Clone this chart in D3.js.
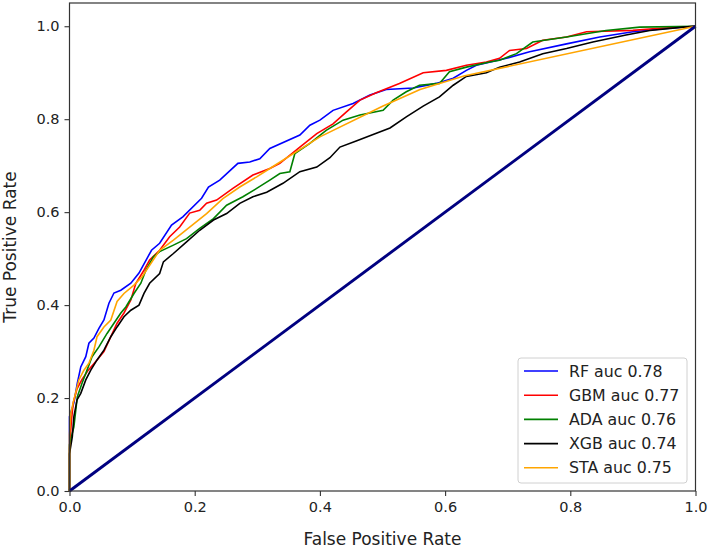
<!DOCTYPE html>
<html>
<head>
<meta charset="utf-8">
<script src="https://cdn.jsdelivr.net/npm/d3@7/dist/d3.min.js"></script>
<style>
  html, body { margin: 0; padding: 0; background: #fff; }
  text { font-family: "DejaVu Sans", sans-serif; fill: #222; }
</style>
</head>
<body>
<svg id="chart" width="709" height="548"></svg>
<script>
const seriesNames = ["RF auc 0.78", "GBM auc 0.77", "ADA auc 0.76", "XGB auc 0.74", "STA auc 0.75"];
const seriesColors = ["blue", "red", "green", "black", "orange"];

const rf = [[0,0],[0,0.16],[0.007,0.19],[0.0125,0.232],[0.018,0.267],[0.026,0.289],[0.031,0.318],[0.039,0.329],[0.047,0.35],[0.055,0.368],[0.063,0.404],[0.071,0.426],[0.082,0.432],[0.098,0.447],[0.111,0.469],[0.131,0.518],[0.144,0.533],[0.163,0.572],[0.181,0.59],[0.211,0.63],[0.222,0.654],[0.24,0.669],[0.269,0.705],[0.288,0.708],[0.304,0.715],[0.32,0.737],[0.368,0.766],[0.384,0.787],[0.40,0.798],[0.421,0.819],[0.453,0.834],[0.48,0.852],[0.506,0.864],[0.549,0.867],[0.586,0.877],[0.613,0.888],[0.634,0.905],[0.65,0.916],[0.698,0.931],[0.735,0.945],[0.794,0.962],[0.847,0.977],[0.9,0.988],[0.953,0.995],[1,1]];

const gbm = [[0,0],[0,0.09],[0.003,0.15],[0.006,0.19],[0.012,0.22],[0.02,0.24],[0.03,0.26],[0.044,0.282],[0.055,0.30],[0.066,0.332],[0.076,0.361],[0.087,0.383],[0.098,0.411],[0.106,0.447],[0.119,0.475],[0.128,0.497],[0.144,0.518],[0.16,0.547],[0.176,0.568],[0.192,0.598],[0.208,0.604],[0.219,0.619],[0.235,0.626],[0.261,0.651],[0.293,0.68],[0.32,0.694],[0.336,0.705],[0.368,0.74],[0.395,0.769],[0.421,0.79],[0.442,0.815],[0.464,0.841],[0.49,0.857],[0.527,0.877],[0.565,0.9],[0.602,0.905],[0.634,0.916],[0.666,0.923],[0.687,0.931],[0.703,0.948],[0.73,0.952],[0.756,0.97],[0.794,0.977],[0.826,0.988],[0.9,0.991],[0.937,0.995],[1,1]];

const ada = [[0,0],[0,0.1],[0.007,0.138],[0.0125,0.203],[0.02,0.232],[0.028,0.26],[0.036,0.289],[0.047,0.31],[0.06,0.339],[0.071,0.361],[0.082,0.383],[0.09,0.396],[0.103,0.425],[0.114,0.447],[0.122,0.475],[0.134,0.504],[0.144,0.515],[0.166,0.529],[0.187,0.543],[0.208,0.565],[0.23,0.586],[0.251,0.615],[0.277,0.633],[0.299,0.651],[0.32,0.669],[0.336,0.683],[0.352,0.687],[0.36,0.726],[0.384,0.748],[0.41,0.776],[0.437,0.798],[0.464,0.809],[0.501,0.819],[0.517,0.841],[0.538,0.859],[0.559,0.873],[0.591,0.877],[0.607,0.902],[0.634,0.912],[0.671,0.923],[0.687,0.927],[0.714,0.941],[0.74,0.966],[0.794,0.977],[0.857,0.991],[0.911,0.998],[1,1]];

const xgb = [[0,0],[0,0.08],[0.0045,0.117],[0.007,0.16],[0.012,0.196],[0.018,0.21],[0.026,0.239],[0.034,0.26],[0.044,0.282],[0.055,0.303],[0.066,0.332],[0.076,0.353],[0.087,0.375],[0.098,0.389],[0.111,0.40],[0.119,0.425],[0.128,0.447],[0.144,0.468],[0.15,0.493],[0.166,0.511],[0.187,0.536],[0.208,0.561],[0.23,0.583],[0.251,0.597],[0.272,0.619],[0.293,0.633],[0.315,0.643],[0.341,0.662],[0.368,0.687],[0.395,0.697],[0.416,0.717],[0.432,0.74],[0.458,0.753],[0.485,0.767],[0.512,0.781],[0.538,0.805],[0.565,0.828],[0.591,0.848],[0.613,0.873],[0.634,0.892],[0.666,0.9],[0.687,0.912],[0.719,0.923],[0.756,0.941],[0.794,0.952],[0.836,0.966],[0.889,0.981],[0.927,0.991],[0.98,0.998],[1,1]];

const sta = [[0,0],[0,0.12],[0.002,0.167],[0.007,0.196],[0.015,0.239],[0.023,0.26],[0.031,0.275],[0.039,0.303],[0.044,0.332],[0.055,0.353],[0.066,0.368],[0.076,0.408],[0.087,0.425],[0.103,0.443],[0.116,0.461],[0.144,0.518],[0.166,0.54],[0.192,0.568],[0.219,0.597],[0.245,0.629],[0.272,0.654],[0.299,0.676],[0.32,0.694],[0.4,0.762],[0.5,0.828],[0.56,0.864],[0.63,0.893],[1,1]];

const chance = [[0,0],[1,1]];
const seriesData = [rf, gbm, ada, xgb, sta];
const xTicks = [0, 0.2, 0.4, 0.6, 0.8, 1.0];
const yTicks = [0, 0.2, 0.4, 0.6, 0.8, 1.0];

const svg = d3.select("#chart");
const L = 69.5, R = 695.5, T = 3, B = 491;
const x = d3.scaleLinear().domain([0, 1]).range([L, R]);
const y = d3.scaleLinear().domain([0, 1.05]).range([B, T]);

const plot = svg.append("g");

const line = d3.line().x(d => x(d[0])).y(d => y(d[1]));

seriesData.forEach((s, i) => {
  plot.append("path").datum(s)
    .attr("d", line)
    .attr("fill", "none")
    .attr("stroke", seriesColors[i])
    .attr("stroke-width", 1.6)
    .attr("stroke-linejoin", "miter");
});

plot.append("path").datum(chance)
  .attr("d", line)
  .attr("fill", "none")
  .attr("stroke", "navy")
  .attr("stroke-width", 2.9);

// axes
const xAxis = d3.axisBottom(x).tickValues(xTicks).tickFormat(d3.format(".1f")).tickSizeOuter(0).tickSize(5).tickPadding(5);
const yAxis = d3.axisLeft(y).tickValues(yTicks).tickFormat(d3.format(".1f")).tickSizeOuter(0).tickSize(5).tickPadding(5);

const gx = svg.append("g").attr("transform", `translate(0,${B})`).call(xAxis);
const gy = svg.append("g").attr("transform", `translate(${L},0)`).call(yAxis);
[gx, gy].forEach(g => {
  g.select(".domain").remove();
  g.selectAll(".tick line").attr("stroke", "#333").attr("stroke-width", 1.1);
  g.selectAll(".tick text").attr("font-size", "14.5px").attr("fill", "#222")
    .attr("font-family", "DejaVu Sans, sans-serif");
});
gx.selectAll(".tick text").attr("dy", "0.71em").attr("y", 11);

// frame
svg.append("rect").attr("x", L).attr("y", T).attr("width", R - L).attr("height", B - T)
  .attr("fill", "none").attr("stroke", "#333").attr("stroke-width", 1.2);

// axis labels
svg.append("text").attr("x", (L + R) / 2).attr("y", 545)
  .attr("text-anchor", "middle").attr("font-size", "17px").text("False Positive Rate");
svg.append("text").attr("transform", `translate(16,${(T + B) / 2}) rotate(-90)`)
  .attr("text-anchor", "middle").attr("font-size", "17px").text("True Positive Rate");

// legend
const lg = svg.append("g");
lg.append("rect").attr("x", 518).attr("y", 358).attr("width", 169).attr("height", 125)
  .attr("rx", 3).attr("fill", "white").attr("fill-opacity", 0.8)
  .attr("stroke", "#d0d0d0").attr("stroke-width", 1);
seriesNames.forEach((n, i) => {
  const cy = 371 + i * 24.2;
  lg.append("line").attr("x1", 524).attr("x2", 558).attr("y1", cy).attr("y2", cy)
    .attr("stroke", seriesColors[i]).attr("stroke-width", 1.6);
  lg.append("text").attr("x", 569).attr("y", cy).attr("dy", "0.36em")
    .attr("font-size", "15.8px").text(n);
});
</script>
</body>
</html>
